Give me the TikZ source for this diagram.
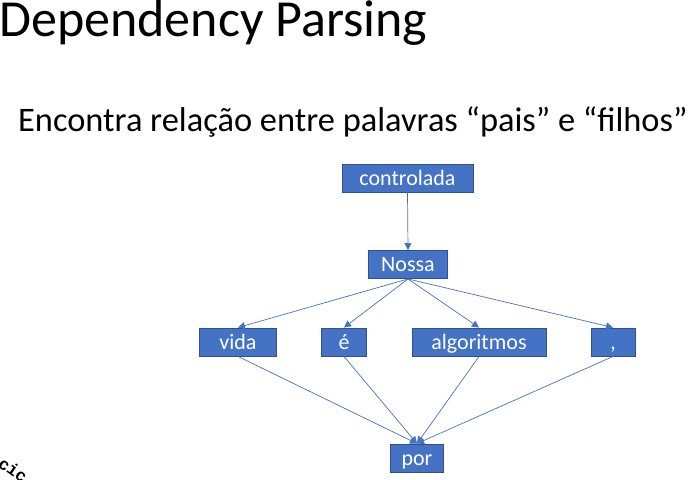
\documentclass[tikz,border=0pt]{standalone}
\usepackage{fontspec}
\setmainfont{Carlito}
\newfontfamily\monofont{Liberation Mono}
\usetikzlibrary{arrows.meta}
\definecolor{boxfill}{HTML}{4472C4}
\definecolor{boxline}{HTML}{2F528F}
\definecolor{linkcol}{HTML}{4472C4}
\begin{document}
\begin{tikzpicture}[x=1pt,y=-1pt,
  word/.style={draw=boxline, line width=0.9pt, fill=boxfill, text=white,
    font=\fontsize{22}{24}\selectfont, inner sep=0pt, minimum height=28pt,
    text height=15.4pt, text depth=1pt},
  link/.style={draw=linkcol, line width=0.7pt,
    -{Triangle[length=7pt,width=7pt]}}
]
\clip (0,0) rectangle (693,479);
\fill[white] (0,0) rectangle (693,479);

% headings
\node[anchor=base west, inner sep=0pt, font=\fontsize{52}{58}\selectfont] (title) at (-1,36) {Dependency Parsing};
\node[anchor=base west, inner sep=0pt, font=\fontsize{34.4}{40}\selectfont] (sub) at (18,131) {Encontra relação entre palavras “pais” e “filhos”};

% word boxes
\node[word, minimum width=131pt] (ctrl) at (407.5,178) {controlada};
\node[word, minimum width=79pt]  (nossa) at (408,264.5) {Nossa};
\node[word, minimum width=77pt]  (vida) at (238,342) {vida};
\node[word, minimum width=45pt]  (e) at (344,342) {é};
\node[word, minimum width=134pt] (alg) at (479,342) {algoritmos};
\node[word, minimum width=44pt]  (comma) at (613,342) {,};
\node[word, minimum width=53pt]  (por) at (417,458) {por};

% dependency links
\draw[link] (ctrl.south) -- (nossa.north);
\draw[link] (nossa.south) -- (vida.north);
\draw[link] (nossa.south) -- (e.north);
\draw[link] (nossa.south) -- (alg.north);
\draw[link] (nossa.south) -- (comma.north);
\draw[link] (vida.south) -- (por.north);
\draw[link] (e.south) -- (por.north);
\draw[link] (alg.south) -- (por.north);
\draw[link] (comma.south) -- (por.north);

% fragment of rotated typewriter text at the corner
\node[anchor=base west, inner sep=0pt, rotate=-35, font=\monofont\bfseries\fontsize{17}{17}\selectfont] (frag) at (-3,466) {cic};
\end{tikzpicture}
\end{document}
